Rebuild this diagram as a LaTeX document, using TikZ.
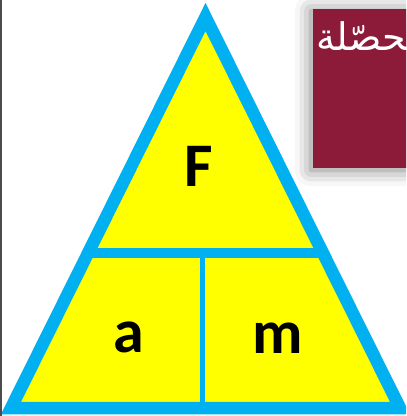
\documentclass[tikz,border=0pt]{standalone}
\usepackage{fontspec}
\usetikzlibrary{shadows.blur}
\newfontfamily\lettersfont{Carlito}
\newfontfamily\arabicfont[Script=Arabic]{DejaVu Sans}
\TeXXeTstate=1
\definecolor{triblue}{HTML}{00B0F0}
\definecolor{triyellow}{HTML}{FFFF00}
\definecolor{boxred}{HTML}{8C1B3A}
\tikzset{
  letter/.style={font=\lettersfont\bfseries\fontsize{31}{31}\selectfont, inner sep=0pt, anchor=base},
  rim/.style={draw=triblue, line width=6.25pt},
  bar/.style={draw=triblue, line width=5pt},
}

\begin{document}
\begin{tikzpicture}[x=0.5pt, y=-0.5pt]
    \clip (0,0) rectangle (406,416);
    % مربع العنوان
    \fill[boxred, blur shadow={shadow xshift=-1pt, shadow yshift=-1pt, shadow blur radius=8pt, shadow opacity=50}] (313,9) rectangle (430,168);
    \node[font=\arabicfont\fontsize{19}{19}\selectfont, text=white, anchor=base east, inner sep=0pt] (title) at (407,51) {\beginR ^^^^200dحصّلة\endR};

    % المثلث
    \coordinate (apex) at (205.5,17);
    \coordinate (left) at (11,408);
    \coordinate (right) at (400,408);
    \filldraw[rim, fill=triyellow] (apex) -- (right) -- (left) -- cycle;

    % خطوط التقسيم
    \draw[bar] (88,253) -- (323,253);
    \draw[bar, line width=2.5pt] (202,253) -- (202,408);

    % الحروف
    \node[letter] (force) at (198.5,187) {F};
    \node[letter] (accel) at (129,352) {a};
    \node[letter] (mass) at (278,353) {m};

    % الحافة اليسرى
    \draw[gray!60!black, line width=0.75pt] (0.75,0) -- (0.75,416);
\end{tikzpicture}
\end{document}
